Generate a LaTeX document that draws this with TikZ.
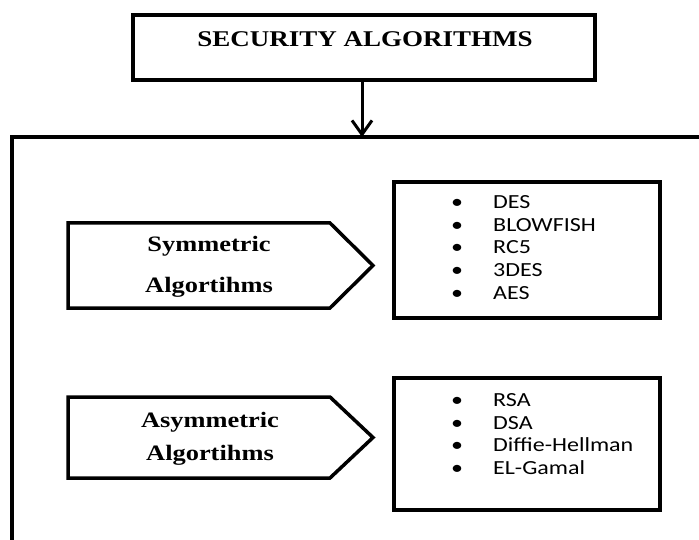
\documentclass[tikz,border=0pt]{standalone}
\usepackage{fontspec}
\usetikzlibrary{arrows.meta}
\newfontfamily\tbold[FakeStretch=1.2]{Liberation Serif Bold}
\newfontfamily\calib[FakeStretch=1.2]{Carlito}
\begin{document}
\begin{tikzpicture}[x=1pt,y=-1pt,
  frame/.style={draw=black,line width=3.5pt},
  heading/.style={inner sep=0pt,anchor=base,font=\fontsize{22.5}{24}\tbold},
  catlabel/.style={inner sep=0pt,anchor=base,font=\fontsize{22}{24}\tbold},
  item/.style={inner sep=0pt,anchor=base west,font=\fontsize{20}{22}\calib},
  dot/.style={inner sep=0pt,anchor=base,font=\fontsize{20}{22}\calib}]
\useasboundingbox (0,0) rectangle (699,540);
\clip (0,0) rectangle (699,540);
\fill[white] (0,0) rectangle (699,540);
% title box
\node[frame,minimum width=462pt,minimum height=65pt,inner sep=0pt] (top) at (364,47.5) {};
\node[heading] (toptext) at (365,47) {SECURITY ALGORITHMS};
% container
\coordinate (cont) at (362,137);
\draw[frame,line cap=butt] (12,560) -- (12,137) -- (720,137);
\draw[line width=3pt,-{Straight Barb[length=14pt,width=20pt,line width=3pt]}] (cont |- top.south) -- (cont);
% pentagons
\draw[frame,line join=miter] (68,223) -- (330,223) -- (373,265.5) -- (330,308) -- (68,308) -- cycle;
\draw[frame,line join=miter] (68,397) -- (330,397) -- (373,437.5) -- (330,478) -- (68,478) -- cycle;
\node[catlabel] (sym1) at (209,252) {Symmetric};
\node[catlabel] (sym2) at (209,292) {Algortihms};
\node[catlabel] (asym1) at (210,427) {Asymmetric};
\node[catlabel] (asym2) at (210,460) {Algortihms};
% lists
\node[frame,minimum width=266pt,minimum height=136pt,inner sep=0pt] (symlist) at (527,250) {};
\node[frame,minimum width=266pt,minimum height=132pt,inner sep=0pt] (asymlist) at (527,444) {};
\foreach \t [count=\i from 0] in {DES,BLOWFISH,RC5,3DES,AES} {
  \node[dot] (sd\i) at (457,208.5+22.75*\i) {•};
  \node[item] (si\i) at (493,208.5+22.75*\i) {\t};
}
\foreach \t [count=\i from 0] in {RSA,DSA,Diffie-Hellman,EL-Gamal} {
  \node[dot] (ad\i) at (457,406.5+22.7*\i) {•};
  \node[item] (ai\i) at (493,406.5+22.7*\i) {\t};
}
\end{tikzpicture}
\end{document}
